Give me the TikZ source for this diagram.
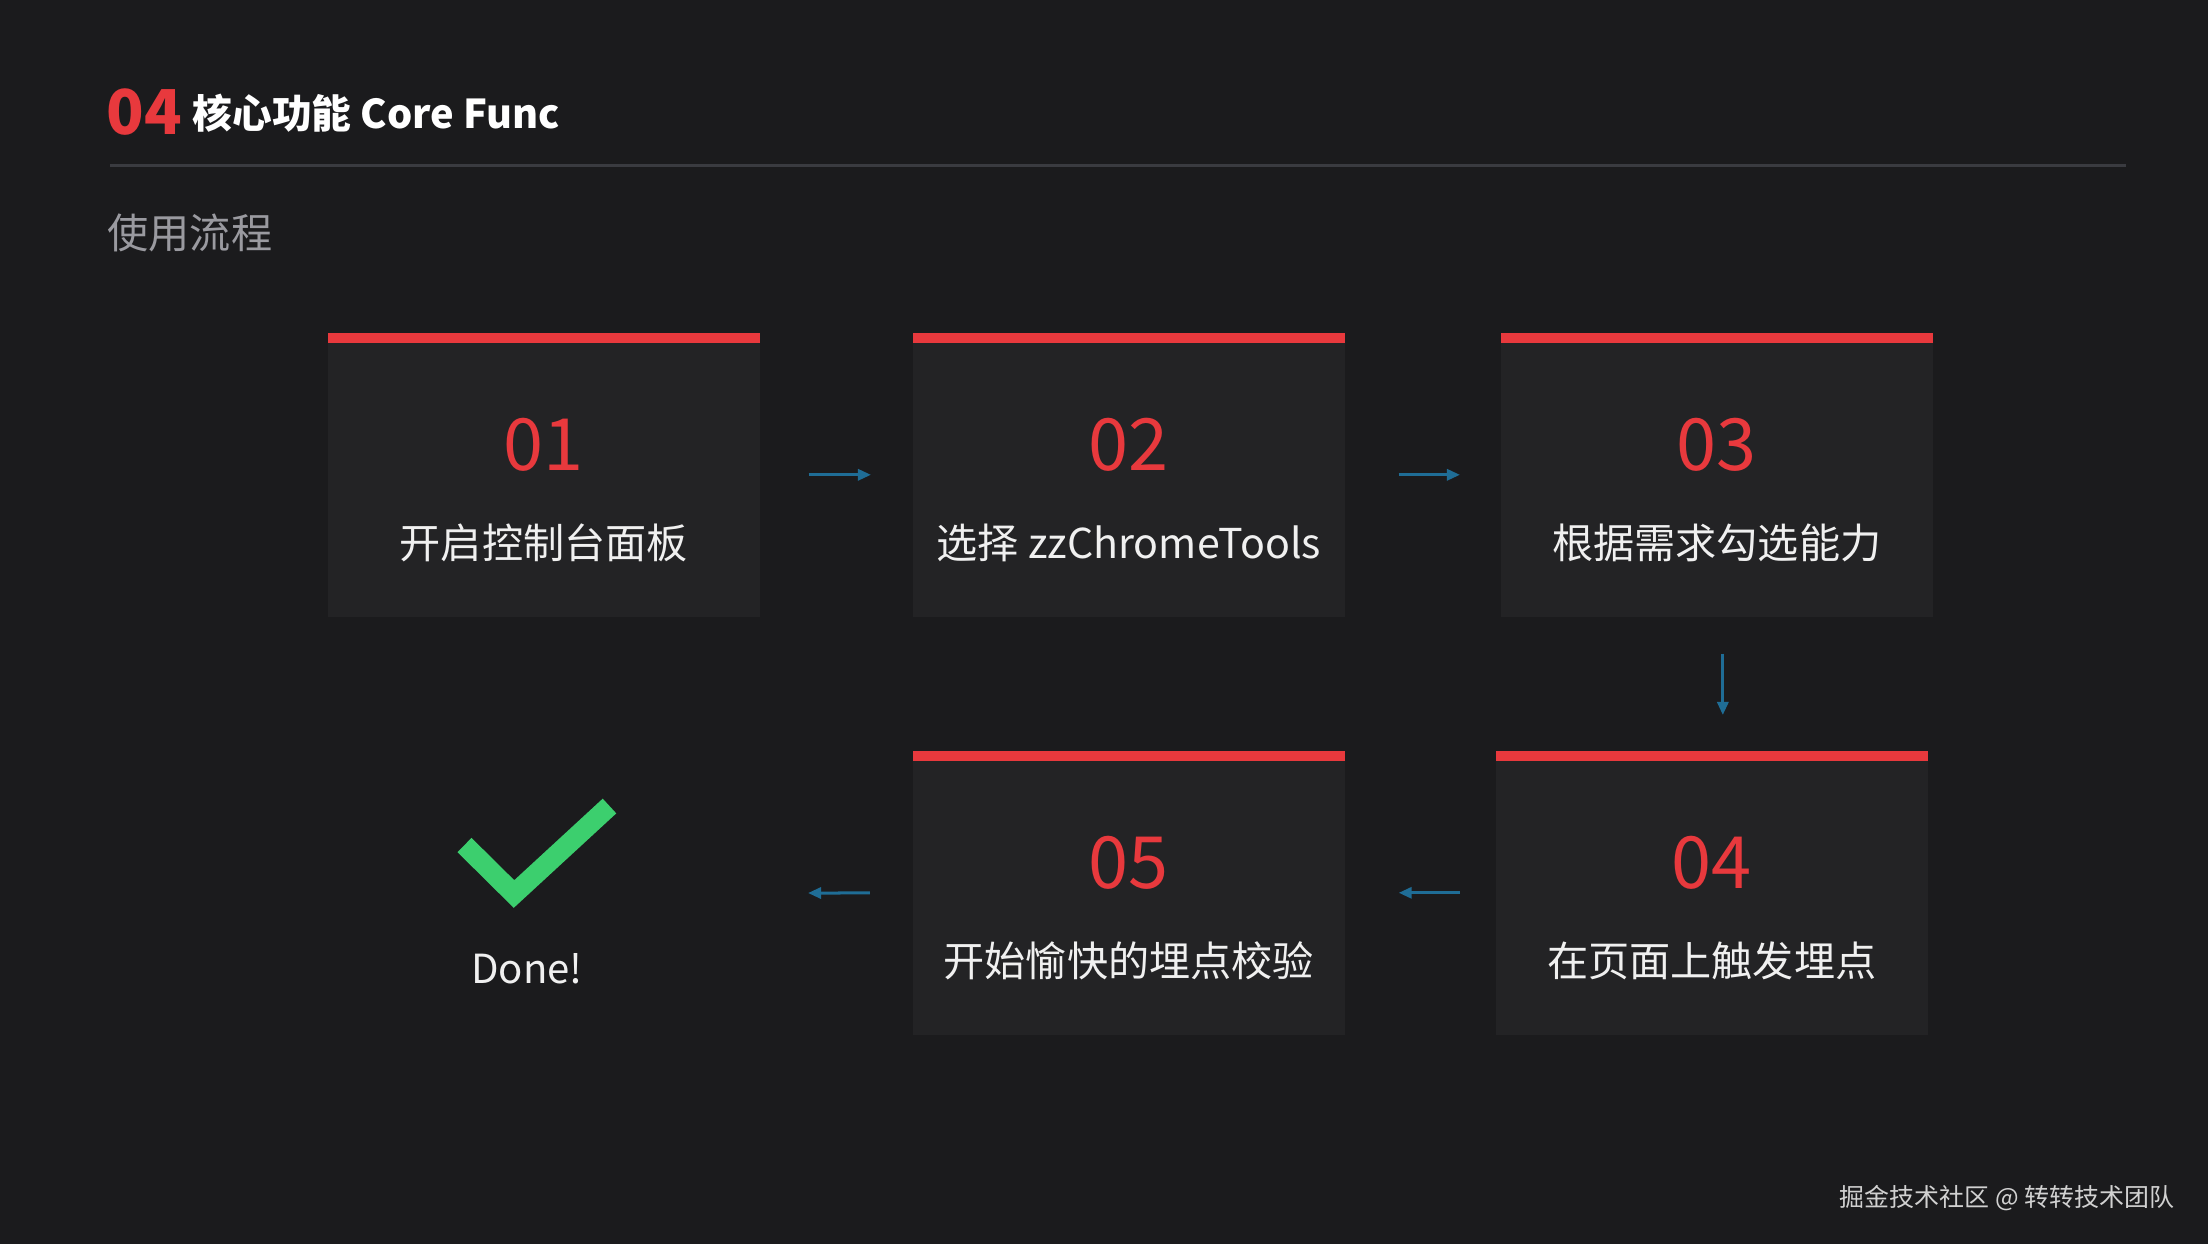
\documentclass[tikz,border=0pt]{standalone}
\usepackage{fontspec}
\setmainfont{Noto Sans CJK SC}
\usetikzlibrary{arrows.meta}
\definecolor{bgcol}{RGB}{27,27,29}
\definecolor{boxcol}{RGB}{35,35,37}
\definecolor{accent}{RGB}{232,57,61}
\definecolor{flowcol}{RGB}{31,109,150}
\definecolor{rulecol}{RGB}{58,59,64}
\definecolor{subcol}{RGB}{154,154,160}
\definecolor{checkcol}{RGB}{60,207,110}
\tikzset{
    stepbox/.style={fill=boxcol, minimum width=4.32cm, minimum height=2.84cm, inner sep=0pt,
        path picture={\fill[accent] (path picture bounding box.north west) rectangle ([yshift=-0.1cm]path picture bounding box.north east);}},
    stepnum/.style={text=accent, font=\fontsize{20.5pt}{22pt}\selectfont, inner sep=0pt},
    steptext/.style={text=white!94!black, font=\fontsize{11.7pt}{13pt}\selectfont, inner sep=0pt},
    flow/.style={flowcol, line width=0.03cm, -{Triangle[length=0.13cm,width=0.11cm]}}
}
\newcommand{\drawStep}[5]{
    \node[stepbox, anchor=north west] (#1) at (#2,#3) {};
    \node[stepnum] (#1-num) at ([yshift=-1.13cm]#1.north) {#4};
    \node[steptext] (#1-txt) at ([yshift=-2.11cm]#1.north) {#5};
}
\begin{document}
\begin{tikzpicture}[x=0.01cm, y=-0.01cm]
            \fill[bgcol] (0,0) rectangle (2208,1244);
            \useasboundingbox (0,0) rectangle (2208,1244);

            % header
            \node[anchor=west, inner sep=0pt, text=accent, font=\fontsize{17.6pt}{18pt}\selectfont\bfseries] (secno) at (106,112) {04};
            \node[anchor=west, inner sep=0pt, text=white, font=\fontsize{11.3pt}{13pt}\selectfont\bfseries] (title) at (192,113) {核心功能 Core Func};
            \draw[rulecol, line width=0.03cm] (110,165) -- (2126,165);
            \node[anchor=west, inner sep=0pt, text=subcol, font=\fontsize{11.7pt}{13pt}\selectfont] (sub) at (107,233) {使用流程};

            % steps
            \drawStep{b1}{327}{332}{01}{开启控制台面板};
            \drawStep{b2}{912}{332}{02}{选择 zzChromeTools};
            \drawStep{b3}{1500}{332}{03}{根据需求勾选能力};
            \drawStep{b4}{1495}{750}{04}{在页面上触发埋点};
            \drawStep{b5}{912}{750}{05}{开始愉快的埋点校验};

            % done
            \draw[checkcol, line width=0.2cm] (464.5,845) -- (514,894) -- (609.5,806);
            \node[steptext, font=\fontsize{11.4pt}{13pt}\selectfont] (done) at (527,969) {Done!};
            \coordinate (fin) at (808,893);

            \draw[flow, shorten <=0.48cm, shorten >=0.41cm] (b1) -- (b2);
            \draw[flow, shorten <=0.53cm, shorten >=0.40cm] (b2) -- (b3);
            \draw[flow, shorten <=0.36cm, shorten >=0.35cm] ([xshift=0.06cm]b3.south) -- ([xshift=0.06cm]b3.south |- b4.north);
            \draw[flow, shorten <=0.35cm, shorten >=0.53cm] (b4) -- (b5);
            \draw[flow, shorten <=0.42cm] (b5) -- (fin);

            \node[anchor=east, inner sep=0pt, text=white!82!black, font=\fontsize{7.1pt}{8pt}\selectfont] (mark) at (2175,1198) {掘金技术社区 @ 转转技术团队};
\end{tikzpicture}
\end{document}
